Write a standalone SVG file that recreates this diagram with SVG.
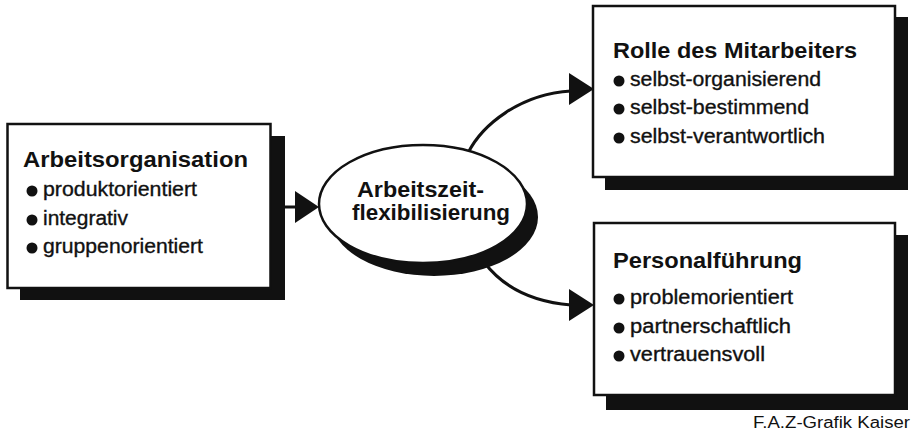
<svg xmlns="http://www.w3.org/2000/svg" width="920" height="433" viewBox="0 0 920 433">
  <style>
    text { font-family: "Liberation Sans", Arial, sans-serif; fill: #111; }
    .title { font-size: 22px; font-weight: bold; }
    .item { font-size: 20px; stroke: #111; stroke-width: 0.35; }
    .center { font-size: 22px; font-weight: bold; }
    .credit { font-size: 16px; }
    .box { fill: #fff; stroke: #111; stroke-width: 2.5; }
    .shadow { fill: #111; }
    .bullet { fill: #111; }
    .link { fill: none; stroke: #111; stroke-width: 3; }
    .head { fill: #111; }
  </style>

  <rect width="920" height="433" fill="#fff"/>

  <!-- connectors (drawn beneath the nodes) -->
  <g id="connectors">
    <line class="link" x1="284" y1="207" x2="297" y2="207"/>
    <polygon class="head" points="295,191 319,207 295,223"/>
    <path class="link" d="M468,153 C482,125 520,94 571,91"/>
    <polygon class="head" points="569,73 594,89 569,105"/>
    <path class="link" d="M484,262 C505,290 535,302 571,305"/>
    <polygon class="head" points="569,289 594,305 569,321"/>
  </g>

  <!-- left box -->
  <g id="arbeitsorganisation">
    <rect class="shadow" x="20" y="136" width="265" height="164"/>
    <rect class="box" x="7.5" y="124" width="263" height="164"/>
    <text class="title" x="23" y="167" textLength="225" lengthAdjust="spacingAndGlyphs">Arbeitsorganisation</text>
    <circle class="bullet" cx="32" cy="191" r="5.5"/>
    <text class="item" x="43" y="196" textLength="154" lengthAdjust="spacingAndGlyphs">produktorientiert</text>
    <circle class="bullet" cx="32" cy="220" r="5.5"/>
    <text class="item" x="43" y="225" textLength="85" lengthAdjust="spacingAndGlyphs">integrativ</text>
    <circle class="bullet" cx="32" cy="248" r="5.5"/>
    <text class="item" x="43" y="253" textLength="160" lengthAdjust="spacingAndGlyphs">gruppenorientiert</text>
  </g>

  <!-- central ellipse -->
  <g id="arbeitszeitflexibilisierung">
    <ellipse class="shadow" cx="434" cy="217" rx="104" ry="59"/>
    <ellipse class="box" cx="423" cy="204" rx="104" ry="59"/>
    <text class="center" x="357" y="197" textLength="127" lengthAdjust="spacingAndGlyphs">Arbeitszeit-</text>
    <text class="center" x="352" y="220" textLength="158" lengthAdjust="spacingAndGlyphs">flexibilisierung</text>
  </g>

  <!-- top right box -->
  <g id="rolle-des-mitarbeiters">
    <rect class="shadow" x="605" y="17" width="303" height="173"/>
    <rect class="box" x="593" y="6" width="302" height="171"/>
    <text class="title" x="613" y="58" textLength="244" lengthAdjust="spacingAndGlyphs">Rolle des Mitarbeiters</text>
    <circle class="bullet" cx="619" cy="81" r="5.5"/>
    <text class="item" x="630" y="86" textLength="191" lengthAdjust="spacingAndGlyphs">selbst-organisierend</text>
    <circle class="bullet" cx="619" cy="109" r="5.5"/>
    <text class="item" x="630" y="114" textLength="179" lengthAdjust="spacingAndGlyphs">selbst-bestimmend</text>
    <circle class="bullet" cx="619" cy="138" r="5.5"/>
    <text class="item" x="630" y="143" textLength="195" lengthAdjust="spacingAndGlyphs">selbst-verantwortlich</text>
  </g>

  <!-- bottom right box -->
  <g id="personalfuehrung">
    <rect class="shadow" x="606" y="235" width="302" height="175"/>
    <rect class="box" x="594" y="223" width="301" height="172"/>
    <text class="title" x="613" y="268" textLength="189" lengthAdjust="spacingAndGlyphs">Personalführung</text>
    <circle class="bullet" cx="619" cy="299" r="5.5"/>
    <text class="item" x="630" y="304" textLength="163" lengthAdjust="spacingAndGlyphs">problemorientiert</text>
    <circle class="bullet" cx="619" cy="328" r="5.5"/>
    <text class="item" x="630" y="333" textLength="161" lengthAdjust="spacingAndGlyphs">partnerschaftlich</text>
    <circle class="bullet" cx="619" cy="356" r="5.5"/>
    <text class="item" x="630" y="361" textLength="135" lengthAdjust="spacingAndGlyphs">vertrauensvoll</text>
  </g>

  <text class="credit" x="753" y="428" textLength="157" lengthAdjust="spacingAndGlyphs">F.A.Z-Grafik Kaiser</text>
</svg>
